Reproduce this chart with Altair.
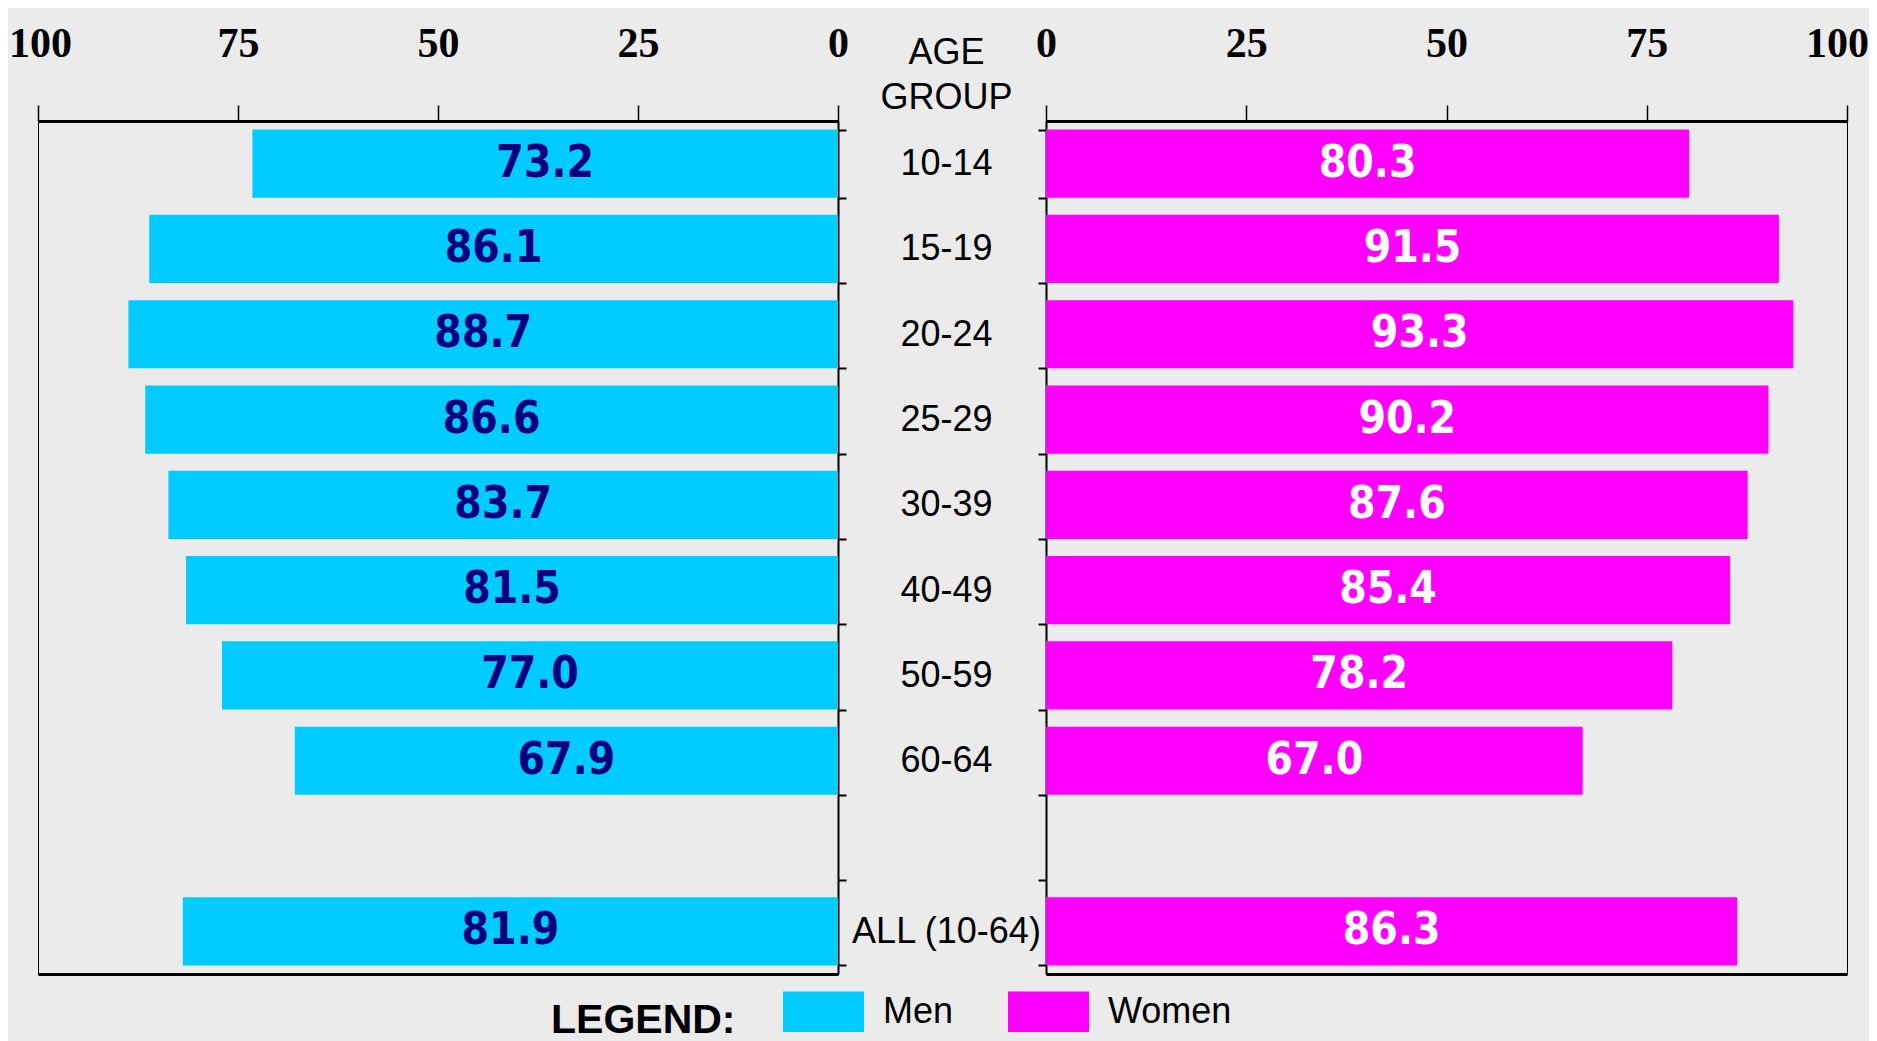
import altair as alt
import pandas as pd

categories = ["10-14", "15-19", "20-24", "25-29", "30-39", "40-49", "50-59", "60-64", " ", "ALL (10-64)"]
age_groups = ["10-14", "15-19", "20-24", "25-29", "30-39", "40-49", "50-59", "60-64", "ALL (10-64)"]
men = [73.2, 86.1, 88.7, 86.6, 83.7, 81.5, 77.0, 67.9, 81.9]
women = [80.3, 91.5, 93.3, 90.2, 87.6, 85.4, 78.2, 67.0, 86.3]
tick_values = [0, 25, 50, 75, 100]
sexes = ["Men", "Women"]
colors = ["#00CCFF", "#FF00FF"]

men_df = pd.DataFrame({"group": age_groups, "value": men, "sex": "Men"})
women_df = pd.DataFrame({"group": age_groups, "value": women, "sex": "Women"})

NARROW = "Liberation Sans Narrow, Arial Narrow, DejaVu Sans Condensed, sans-serif"
SERIF = "Liberation Serif"
SANS = "Liberation Sans"

y_scale = alt.Scale(domain=categories, paddingInner=0.2, paddingOuter=0.1)
color_scale = alt.Scale(domain=sexes, range=colors)

legend = alt.Legend(
    title="LEGEND:", orient="none", legendX=513, legendY=850,
    direction="horizontal", titleOrient="left", titleFont=SANS,
    titleFontSize=41, titleFontWeight="bold", titleColor="black",
    titlePadding=47, titleBaseline="top", titleAnchor="middle", titleLimit=400,
    labelFont=SANS, labelFontSize=36, labelColor="black", labelOffset=19,
    labelBaseline="middle", columnPadding=54, labelLimit=300,
    symbolType="M-1,-0.5H1V0.5H-1Z", symbolSize=6561,
    symbolStrokeWidth=0, symbolOpacity=1, padding=0,
)


def top_axis(offset_100):
    return alt.Axis(
        orient="top", values=tick_values, format="d", title=None, grid=False,
        tickSize=16, tickWidth=1.5, tickColor="black",
        domainWidth=3, domainColor="black",
        labelFont=SERIF, labelFontWeight="bold", labelFontSize=42,
        labelColor="black", labelPadding=40, labelFlush=False, labelOverlap=False,
        labelOffset={"condition": {"test": "datum.value === 100", "value": offset_100}, "value": 0},
    )


bottom_axis = alt.Axis(orient="bottom", labels=False, ticks=False, title=None,
                       grid=False, domainWidth=3, domainColor="black")


def panel(df, reverse, text_color, y_axis, width, offset_100):
    xs = alt.Scale(domain=[0, 100], reverse=reverse, nice=False)
    bars = alt.Chart(df).mark_bar().encode(
        x=alt.X("value:Q", scale=xs, axis=top_axis(offset_100)),
        y=alt.Y("group:N", scale=y_scale, axis=y_axis),
        color=alt.Color("sex:N", scale=color_scale, legend=legend),
    )
    labels = alt.Chart(df).transform_calculate(half="datum.value / 2").mark_text(
        font=NARROW, fontSize=44, fontWeight="bold", color=text_color,
        baseline="middle", align="center",
    ).encode(
        x=alt.X("half:Q", scale=xs, axis=bottom_axis),
        y=alt.Y("group:N", scale=y_scale, axis=None),
        text=alt.Text("value:Q", format=".1f"),
    )
    return alt.layer(bars, labels).resolve_axis(x="independent", y="independent").properties(
        width=width, height=853
    )


left_y = alt.Axis(orient="right", labels=False, title=None, grid=False,
                  tickSize=8, tickWidth=2, tickColor="black", tickBand="extent",
                  domainWidth=2, domainColor="black")
right_y = alt.Axis(orient="left", title=["AGE", "GROUP"], grid=False,
                   tickSize=8, tickWidth=2, tickColor="black", tickBand="extent",
                   domainWidth=2, domainColor="black",
                   labelFont=SANS, labelFontSize=36, labelColor="black",
                   labelAlign="center", labelPadding=92, labelLimit=400,
                   titleFont=SANS, titleFontSize=36, titleFontWeight="normal",
                   titleColor="black", titleAngle=0, titleAlign="center",
                   titleBaseline="alphabetic", titleX=-100, titleY=-58,
                   titleLineHeight=45, titleLimit=400)

left = panel(men_df, True, "#000080", left_y, 800, 2)
right = panel(women_df, False, "white", right_y, 801, -10)

chart = alt.hconcat(left, right, spacing=208, bounds="flush").configure(
    background="#EBEBEB",
    padding={"left": 0, "top": 13, "right": 0, "bottom": 0},
).configure_view(stroke="black", strokeWidth=1)

chart.save("out.html", embed_options={"renderer": "svg", "actions": False})
